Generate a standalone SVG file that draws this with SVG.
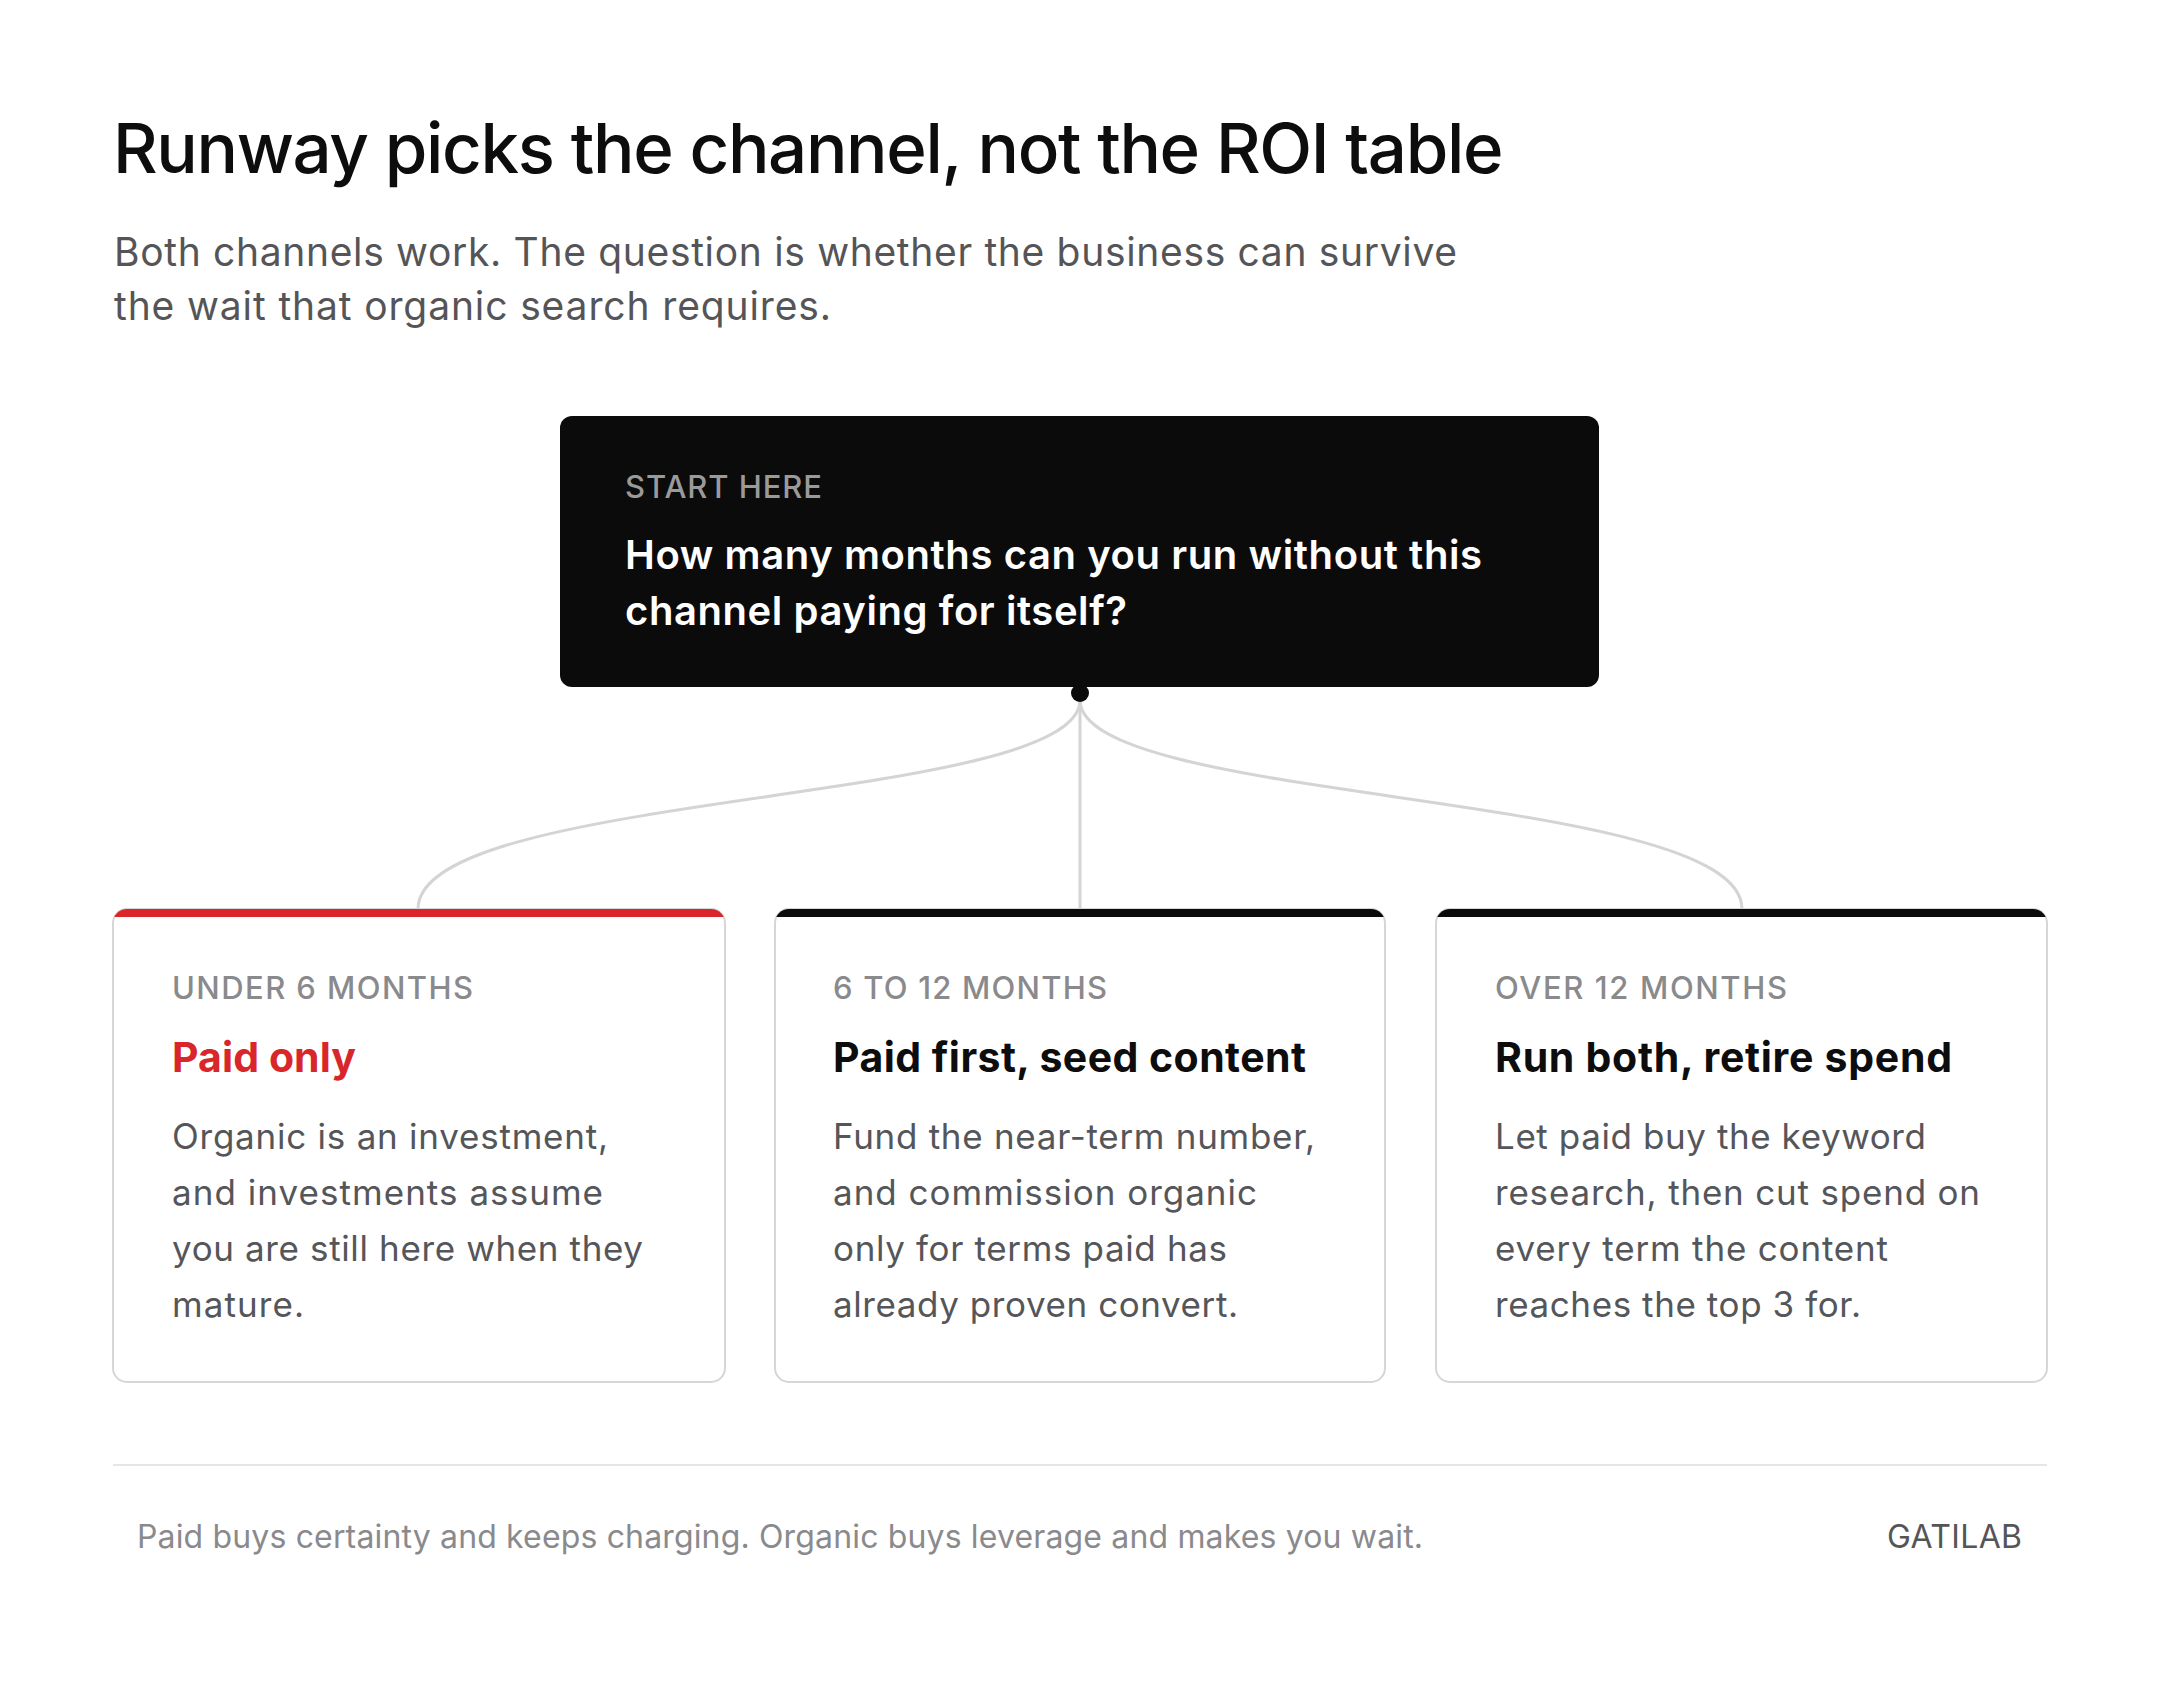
<svg xmlns="http://www.w3.org/2000/svg" width="2160" height="1698" viewBox="0 0 2160 1698">
<style>
text{font-family:Inter,"Noto Sans","Liberation Sans",sans-serif}
.title{font-size:69px;font-weight:500;fill:#0d0d0d;letter-spacing:-2.6px}
.sub{font-size:39px;font-weight:400;fill:#555558}
.kick{font-size:31px;font-weight:500;fill:#9a9a9a}
.q{font-size:40px;font-weight:600;fill:#ffffff}
.lab{font-size:31px;font-weight:500;fill:#8a8a8d}
.head{font-size:41px;font-weight:700;fill:#0d0d0d}
.red{fill:#d9262b}
.body{font-size:35px;font-weight:400;fill:#55565a}
.card{fill:#ffffff;stroke:#d6d6d8;stroke-width:2}
.link{fill:none;stroke:#d4d4d6;stroke-width:3}
.foot{font-size:32px;font-weight:400;fill:#8a8a8d}
.brand{font-size:32px;font-weight:400;fill:#555558}
</style>
<defs>
<clipPath id="c1"><rect x="113" y="909" width="612" height="473" rx="14"/></clipPath>
<clipPath id="c2"><rect x="775" y="909" width="610" height="473" rx="14"/></clipPath>
<clipPath id="c3"><rect x="1436" y="909" width="611" height="473" rx="14"/></clipPath>
</defs>
<rect width="2160" height="1698" fill="#ffffff"/>
<g id="header">
<text class="title" x="113" y="173" textLength="1388">Runway picks the channel, not the ROI table</text>
<text class="sub" x="114" y="266" textLength="1343">Both channels work. The question is whether the business can survive</text>
<text class="sub" x="114" y="320" textLength="717">the wait that organic search requires.</text>
</g>
<g id="connectors">
<path class="link" d="M1080,700 V909"/>
<path class="link" d="M1080,700 C1080,805 418,790 418,909"/>
<path class="link" d="M1080,700 C1080,805 1742,790 1742,909"/>
</g>
<g id="start">
<rect x="560" y="416" width="1039" height="271" rx="12" fill="#0b0b0b"/>
<circle cx="1080" cy="693" r="9" fill="#0b0b0b"/>
<text class="kick" x="625" y="498" textLength="197">START HERE</text>
<text class="q" x="625" y="569" textLength="857">How many months can you run without this</text>
<text class="q" x="625" y="625" textLength="502">channel paying for itself?</text>
</g>
<g id="card-under6">
<rect class="card" x="113" y="909" width="612" height="473" rx="14"/>
<rect x="113" y="908" width="612" height="9" fill="#d9262b" clip-path="url(#c1)"/>
<text class="lab" x="172" y="999" textLength="301">UNDER 6 MONTHS</text>
<text class="head red" x="172" y="1072" textLength="184">Paid only</text>
<text class="body" x="172" y="1149" textLength="436">Organic is an investment,</text>
<text class="body" x="172" y="1205" textLength="431">and investments assume</text>
<text class="body" x="172" y="1261" textLength="471">you are still here when they</text>
<text class="body" x="172" y="1317" textLength="132">mature.</text>
</g>
<g id="card-6to12">
<rect class="card" x="775" y="909" width="610" height="473" rx="14"/>
<rect x="775" y="908" width="610" height="9" fill="#0b0b0b" clip-path="url(#c2)"/>
<text class="lab" x="833" y="999" textLength="274">6 TO 12 MONTHS</text>
<text class="head" x="833" y="1072" textLength="473">Paid first, seed content</text>
<text class="body" x="833" y="1149" textLength="482">Fund the near-term number,</text>
<text class="body" x="833" y="1205" textLength="424">and commission organic</text>
<text class="body" x="833" y="1261" textLength="394">only for terms paid has</text>
<text class="body" x="833" y="1317" textLength="405">already proven convert.</text>
</g>
<g id="card-over12">
<rect class="card" x="1436" y="909" width="611" height="473" rx="14"/>
<rect x="1436" y="908" width="611" height="9" fill="#0b0b0b" clip-path="url(#c3)"/>
<text class="lab" x="1495" y="999" textLength="292">OVER 12 MONTHS</text>
<text class="head" x="1495" y="1072" textLength="457">Run both, retire spend</text>
<text class="body" x="1495" y="1149" textLength="431">Let paid buy the keyword</text>
<text class="body" x="1495" y="1205" textLength="485">research, then cut spend on</text>
<text class="body" x="1495" y="1261" textLength="393">every term the content</text>
<text class="body" x="1495" y="1317" textLength="366">reaches the top 3 for.</text>
</g>
<g id="footer">
<rect x="113" y="1464" width="1934" height="2" fill="#e6e6e8"/>
<text class="foot" x="137" y="1548" textLength="1286">Paid buys certainty and keeps charging. Organic buys leverage and makes you wait.</text>
<text class="brand" x="1887" y="1548" textLength="135">GATILAB</text>
</g>
</svg>
